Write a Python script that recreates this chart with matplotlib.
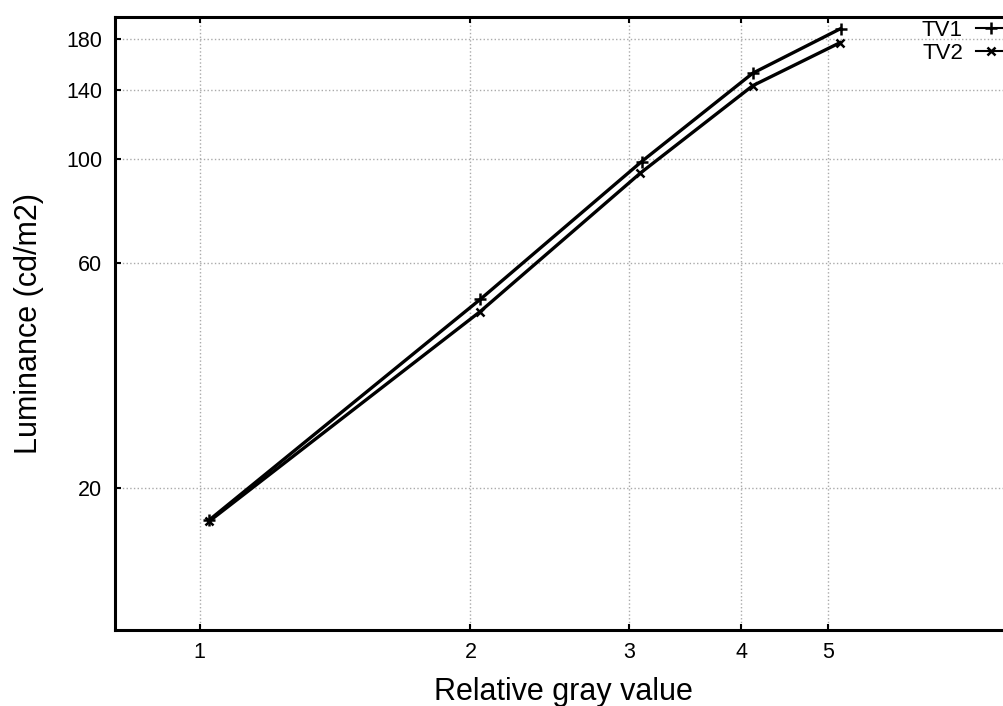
import matplotlib
matplotlib.use("Agg")
import matplotlib.pyplot as plt
from matplotlib.ticker import FixedLocator, NullLocator, FixedFormatter

plt.rcParams['font.family'] = ['Liberation Sans', 'DejaVu Sans']

# values
gray_tv1 = [1.024, 2.05, 3.10, 4.12, 5.16]
lum_tv1 = [17.1, 50.3, 98.7, 152.0, 189.0]
gray_tv2 = [1.024, 2.05, 3.09, 4.12, 5.15]
lum_tv2 = [17.0, 47.4, 93.3, 143.0, 176.4]

x_ticks = [1, 2, 3, 4, 5]
y_ticks = [20, 60, 100, 140, 180]

fig = plt.figure(figsize=(10.04, 7.06), dpi=100)
# right border of the frame falls just outside the picture, as in the scan
ax = fig.add_axes([115 / 1004, 76 / 706, 897 / 1004, 613 / 706])

ax.plot(gray_tv1, lum_tv1, color='black', lw=2.4, marker='+', ms=8, mew=1.8, label='TV1')
ax.plot(gray_tv2, lum_tv2, color='black', lw=2.4, marker='x', ms=6, mew=1.8, label='TV2')

ax.set_xscale('log')
ax.set_yscale('log')
ax.set_xlim(0.805, 8)
ax.set_ylim(10, 200)

ax.xaxis.set_major_locator(FixedLocator(x_ticks))
ax.xaxis.set_major_formatter(FixedFormatter([str(v) for v in x_ticks]))
ax.xaxis.set_minor_locator(NullLocator())
ax.yaxis.set_major_locator(FixedLocator(y_ticks))
ax.yaxis.set_major_formatter(FixedFormatter([str(v) for v in y_ticks]))
ax.yaxis.set_minor_locator(NullLocator())

ax.tick_params(direction='in', top=True, right=True, length=4, width=1.5,
               labelsize=15.5, pad=9)
ax.grid(True, color='#aaaaaa', linestyle=':', linewidth=1)
for s in ax.spines.values():
    s.set_linewidth(2.2)

ax.set_xlabel('Relative gray value', fontsize=22, labelpad=10)
ax.set_ylabel('Luminance (cd/m2)', fontsize=22, labelpad=16)

leg = ax.legend(loc='upper left', bbox_to_anchor=(922 / 1004, 1 - 20 / 706),
                bbox_transform=fig.transFigure, frameon=False, markerfirst=False,
                fontsize=16, handlelength=1.3, labelspacing=0.1, handletextpad=0.6,
                borderaxespad=0, borderpad=0)
for h in leg.legend_handles:
    h.set_linewidth(1.5)

fig.savefig('out.png', dpi=100)
